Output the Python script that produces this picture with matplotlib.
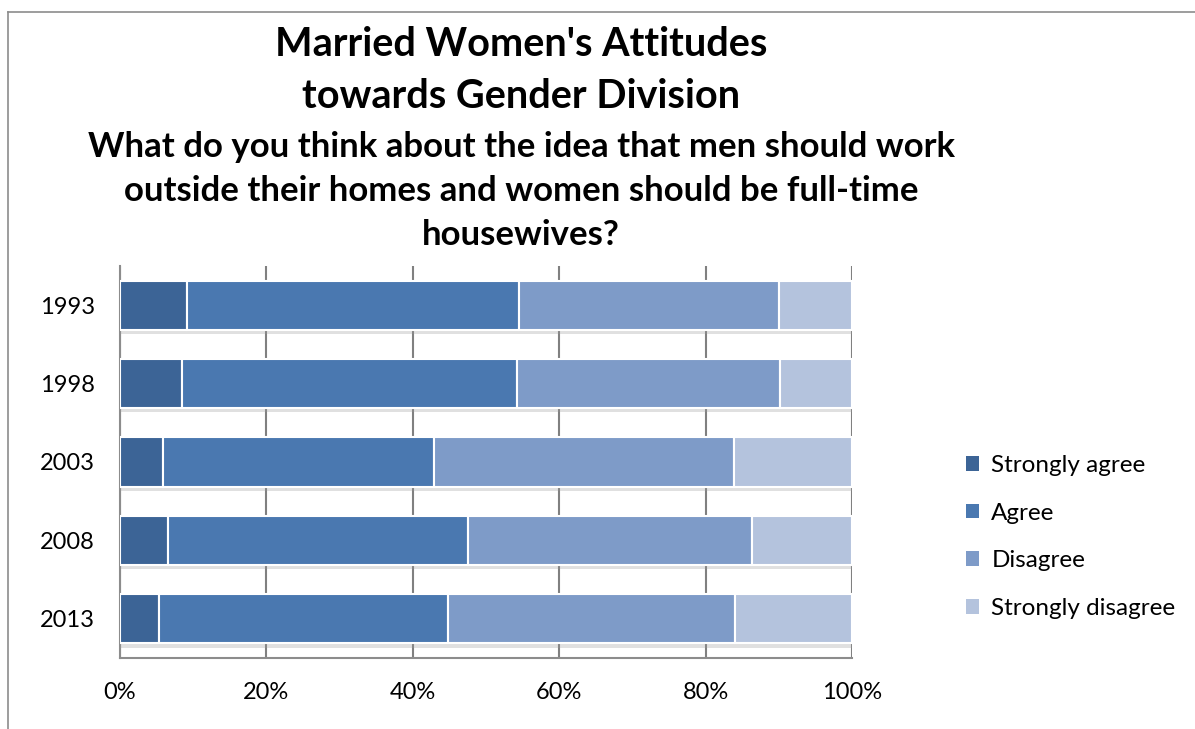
import matplotlib
matplotlib.use("Agg")
import matplotlib.pyplot as plt
import matplotlib.patheffects as pe
from matplotlib.lines import Line2D
from matplotlib.patches import Patch
import numpy as np

years = ["1993", "1998", "2003", "2008", "2013"]
responses = ["Strongly agree", "Agree", "Disagree", "Strongly disagree"]
strongly_agree = [9.2, 8.5, 5.9, 6.6, 5.3]
agree = [45.3, 45.7, 37.0, 40.9, 39.5]
disagree = [35.5, 36.0, 41.0, 38.8, 39.2]
strongly_disagree = [10.0, 9.8, 16.1, 13.7, 16.0]

colors = ["#3C6496", "#4A78B0", "#7E9BC8", "#B4C3DD"]
FONT = ["Lato", "DejaVu Sans"]

fig = plt.figure(figsize=(11.95, 7.29), dpi=100)
ax = fig.add_axes([120 / 1195, 1 - 658 / 729, 732 / 1195, 392 / 729])

series = [strongly_agree, agree, disagree, strongly_disagree]
y = np.arange(len(years))[::-1]
left = np.zeros(len(years))
shadow = [pe.SimplePatchShadow(offset=(0, -3), shadow_rgbFace="#999999", alpha=0.3), pe.Normal()]
for vals, name, col in zip(series, responses, colors):
    bars = ax.barh(y, vals, left=left, height=0.63, color=col, edgecolor="white",
                   linewidth=1.5, zorder=3)
    for b in bars:
        b.set_path_effects(shadow)
    left += np.array(vals)

ax.set_xlim(0, 100)
ax.set_ylim(-0.5, len(years) - 0.5)
ax.set_xticks(np.arange(0, 101, 20))
ax.set_xticklabels([f"{v}%" for v in range(0, 101, 20)], fontsize=17, family=FONT)
ax.set_yticks(y)
ax.set_yticklabels(years, fontsize=17, family=FONT)
ax.tick_params(length=0)
ax.tick_params(axis="x", pad=17)
ax.tick_params(axis="y", pad=18)
ax.grid(axis="x", color="#808080", lw=1.5, zorder=0)
for s in ["top", "right"]:
    ax.spines[s].set_visible(False)
for s in ["left", "bottom"]:
    ax.spines[s].set_color("#8c8c8c")
    ax.spines[s].set_linewidth(1.5)

fig.text(521 / 1195, 1 - 45 / 729, "Married Women's Attitudes", ha="center", va="center",
         fontsize=28.5, fontweight="bold", family=FONT)
fig.text(521 / 1195, 1 - 97 / 729, "towards Gender Division", ha="center", va="center",
         fontsize=28.5, fontweight="bold", family=FONT)
sub = ["What do you think about the idea that men should work",
       "outside their homes and women should be full-time",
       "housewives?"]
for i, line in enumerate(sub):
    fig.text(521 / 1195, 1 - (147 + 44 * i) / 729, line, ha="center", va="center",
             fontsize=25, fontweight="bold", family=FONT)

handles = [Patch(facecolor=c, edgecolor="none") for c in colors]
fig.legend(handles, responses, loc="upper left", bbox_to_anchor=(944 / 1195, 1 - 433 / 729),
           frameon=False, prop={"family": FONT, "size": 17.5}, handlelength=0.55,
           handleheight=0.55, handletextpad=0.5, labelspacing=1.1)

# outer chart border
fig.add_artist(Line2D([8 / 1195, 8 / 1195], [0, 1 - 12 / 729], transform=fig.transFigure,
                      color="#8c8c8c", lw=1.2))
fig.add_artist(Line2D([8 / 1195, 1], [1 - 12 / 729, 1 - 12 / 729], transform=fig.transFigure,
                      color="#8c8c8c", lw=1.2))

fig.savefig("out.png", dpi=100)
